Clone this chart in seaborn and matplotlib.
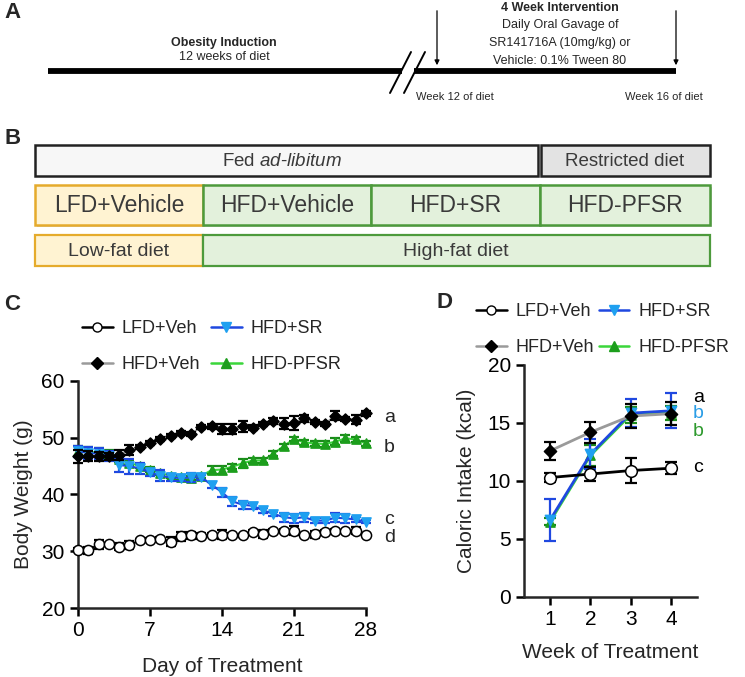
import numpy as np
import pandas as pd
import seaborn as sns
import matplotlib.pyplot as plt
from matplotlib.patches import Rectangle
from matplotlib.lines import Line2D
import matplotlib.patheffects as pe

sns.set_style('ticks')
plt.rcParams['font.family'] = ['Liberation Sans', 'DejaVu Sans']
plt.rcParams['mathtext.fontset'] = 'custom'
plt.rcParams['mathtext.rm'] = 'Liberation Sans'
plt.rcParams['mathtext.it'] = 'Liberation Sans:italic'

# ---- panel C: body weight (g) per day of treatment ----
days = list(range(29))
lfd_bw = [30.3, 30.2, 31.2, 31.2, 30.8, 31.1, 31.9, 32.0, 32.2, 31.7, 32.6, 32.8, 32.7, 32.9, 32.9,
          32.9, 32.8, 33.4, 33.1, 33.6, 33.6, 33.6, 32.9, 33.0, 33.4, 33.6, 33.5, 33.6, 32.9]
lfd_bw_err = [0.3, 0.6, 0.8, 0.3, 0.6, 0.7, 0.3, 0.3, 0.3, 0.8, 0.8, 0.6, 0.5, 0.3, 0.8,
              0.3, 0.3, 0.3, 0.7, 0.3, 0.3, 0.8, 0.3, 0.6, 0.3, 0.3, 0.3, 0.6, 0.3]
veh_bw = [46.7, 46.8, 46.7, 46.7, 46.9, 47.8, 48.4, 49.1, 49.8, 50.3, 50.8, 50.7, 51.9, 52.0, 51.6,
          51.6, 52.0, 51.8, 52.4, 52.9, 52.5, 52.6, 53.4, 52.8, 52.4, 53.9, 53.3, 53.2, 54.3]
veh_bw_err = [1.2, 0.9, 0.8, 0.6, 0.9, 0.9, 0.4, 0.4, 0.4, 0.4, 0.4, 0.4, 0.4, 0.5, 0.9,
              0.9, 0.9, 0.5, 0.4, 0.5, 0.9, 1.2, 0.6, 0.4, 0.4, 0.8, 0.4, 0.8, 0.4]
sr_bw = [47.6, 47.3, 47.2, 46.8, 45.2, 45.0, 44.6, 43.9, 43.3, 43.0, 42.9, 43.0, 43.0, 41.7, 40.4,
         38.8, 38.2, 38.0, 37.2, 36.6, 36.0, 35.8, 36.0, 35.4, 35.4, 35.9, 35.8, 35.6, 35.2]
sr_bw_err = [1.0, 1.0, 1.0, 0.9, 1.2, 1.3, 1.0, 0.6, 1.0, 0.6, 0.5, 0.8, 0.5, 0.5, 0.8,
             0.8, 0.7, 0.5, 0.4, 0.4, 0.8, 0.8, 0.8, 0.4, 0.4, 0.8, 0.8, 0.5, 0.3]
pfsr_bw = [47.6, 47.5, 47.4, 47.0, 46.2, 45.6, 45.0, 44.4, 43.8, 43.3, 43.0, 42.9, 43.3, 44.3, 44.4,
           44.9, 45.5, 46.0, 46.0, 47.2, 48.5, 49.8, 49.2, 49.0, 48.9, 49.3, 49.9, 49.7, 49.0]
pfsr_bw_err = [0.9, 0.8, 0.8, 0.8, 0.5, 0.4, 0.4, 0.4, 0.4, 0.4, 0.4, 0.4, 0.4, 0.7, 0.7,
               0.4, 0.8, 0.4, 0.4, 0.4, 0.4, 0.4, 0.4, 0.4, 0.6, 0.6, 0.6, 0.4, 0.4]
bw_letters = ['a', 'b', 'c', 'd']

# ---- panel D: caloric intake (kcal) per week ----
weeks = [1, 2, 3, 4]
lfd_kcal = [10.3, 10.6, 10.9, 11.1]
lfd_kcal_err = [0.4, 0.6, 1.1, 0.5]
veh_kcal = [12.6, 14.2, 15.6, 15.8]
veh_kcal_err = [0.8, 0.9, 1.0, 1.0]
sr_kcal = [6.65, 12.3, 15.85, 16.05]
sr_kcal_err = [1.8, 1.3, 1.2, 1.5]
pfsr_kcal = [6.5, 12.2, 15.7, 15.9]
pfsr_kcal_err = [0.3, 0.9, 0.7, 0.6]
kcal_letters = ['a', 'b', 'b', 'c']

W, H = 745, 677
fig = plt.figure(figsize=(W / 100, H / 100), dpi=100)


def px_axes(left, top, right, bottom):
    return fig.add_axes([left / W, 1 - bottom / H, (right - left) / W, (bottom - top) / H])


bg = fig.add_axes([0, 0, 1, 1], zorder=0)
bg.set_xlim(0, W)
bg.set_ylim(H, 0)
bg.axis('off')

# ---- panel A: timeline ----
bg.text(4, 13, 'A', fontsize=16, fontweight='bold', va='center')
bg.plot([48, 402], [71, 71], color='black', lw=4.2, solid_capstyle='butt')
bg.plot([414, 676], [71, 71], color='black', lw=4.2, solid_capstyle='butt')
bg.plot([390, 411], [93, 52], color='black', lw=1.4)
bg.plot([404, 425], [93, 52], color='black', lw=1.4)
for xa in [437, 676]:
    bg.annotate('', xy=(xa, 68), xytext=(xa, 8),
                arrowprops=dict(arrowstyle='-|>', lw=0.9, color='black', mutation_scale=7))
bg.text(224, 43, 'Obesity Induction', fontsize=9, fontweight='bold', ha='center', va='center')
bg.text(224, 57, '12 weeks of diet', fontsize=9, ha='center', va='center')
bg.text(560, 8, '4 Week Intervention', fontsize=9, fontweight='bold', ha='center', va='center')
bg.text(560, 25, 'Daily Oral Gavage of', fontsize=9, ha='center', va='center')
bg.text(560, 43, 'SR141716A (10mg/kg) or', fontsize=9, ha='center', va='center')
bg.text(560, 61, 'Vehicle: 0.1% Tween 80', fontsize=9, ha='center', va='center')
bg.text(455, 97, 'Week 12 of diet', fontsize=8, ha='center', va='center')
bg.text(664, 97, 'Week 16 of diet', fontsize=8, ha='center', va='center')

# ---- panel B: group boxes ----
bg.text(4, 139, 'B', fontsize=16, fontweight='bold', va='center')
txt = '#3a3a3a'
yel_fill, yel_edge = '#fff3d2', '#e5ab2c'
grn_fill, grn_edge = '#e3f1dc', '#4d9a3c'


def box(x0, x1, y0, y1, fc, ec, lw=1.6, shadow=False):
    r = Rectangle((x0, y0), x1 - x0, y1 - y0, facecolor=fc, edgecolor=ec, lw=lw)
    if shadow:
        r.set_path_effects([pe.SimplePatchShadow(offset=(1.5, -1.5), alpha=0.25), pe.Normal()])
    bg.add_patch(r)


box(35, 538, 145, 176, '#f7f7f7', '#222222', lw=1.8)
box(541, 710, 145, 176, '#e3e3e3', '#222222', lw=1.8)
bg.text(282, 161, 'Fed $\\it{ad}$-$\\it{libitum}$', fontsize=13.5, color=txt, ha='center', va='center')
bg.text(625, 161, 'Restricted diet', fontsize=13.5, color=txt, ha='center', va='center')

groups_b = ['LFD+Vehicle', 'HFD+Vehicle', 'HFD+SR', 'HFD-PFSR']
edges_b = [35, 203, 371, 540, 710]
for i, g in enumerate(groups_b):
    fc, ec = (yel_fill, yel_edge) if i == 0 else (grn_fill, grn_edge)
    box(edges_b[i], edges_b[i + 1], 185, 225, fc, ec, lw=1.8, shadow=True)
    bg.text((edges_b[i] + edges_b[i + 1]) / 2, 205, g, fontsize=16.5, color=txt, ha='center', va='center')

box(35, 203, 235, 266, yel_fill, yel_edge, lw=1.6)
box(203, 710, 235, 266, grn_fill, grn_edge, lw=1.6)
bg.text(119, 251, 'Low-fat diet', fontsize=14, color=txt, ha='center', va='center')
bg.text(456, 251, 'High-fat diet', fontsize=14, color=txt, ha='center', va='center')

# ---- series styles ----
blue_line, blue_mk = '#1f48e0', '#1fa0f0'
green_line, green_mk, green_err = '#3bd63b', '#1c9e1c', '#1a8a1a'
styles = {
    'LFD+Veh': dict(line='black', mk='white', mec='black', err='black', marker='o'),
    'HFD+Veh': dict(line='#9a9a9a', mk='black', mec='black', err='black', marker='D'),
    'HFD+SR': dict(line=blue_line, mk=blue_mk, mec=blue_mk, err=blue_line, marker='v'),
    'HFD-PFSR': dict(line=green_line, mk=green_mk, mec=green_mk, err=green_err, marker='^'),
}
draw_order = ['HFD-PFSR', 'HFD+SR', 'HFD+Veh', 'LFD+Veh']


def draw_series(ax, x, y, err, name, base_z, ms, lw, cap):
    st = styles[name]
    sns.lineplot(x=x, y=y, color=st['line'], lw=lw, ax=ax, zorder=base_z, clip_on=False)
    ax.errorbar(x, y, yerr=err, fmt='none', ecolor=st['err'], elinewidth=1.6,
                capsize=cap, capthick=1.6, zorder=base_z + 0.2, clip_on=False)
    sns.scatterplot(x=x, y=y, marker=st['marker'], color=st['mk'], edgecolor=st['mec'],
                    linewidth=1.1, s=ms ** 2, ax=ax, zorder=base_z + 0.4, clip_on=False)


# ---- panel C ----
axc = px_axes(78, 381, 366, 608)
bw = {'LFD+Veh': (lfd_bw, lfd_bw_err), 'HFD+Veh': (veh_bw, veh_bw_err),
      'HFD+SR': (sr_bw, sr_bw_err), 'HFD-PFSR': (pfsr_bw, pfsr_bw_err)}
sizes_c = {'LFD+Veh': 7.3, 'HFD+Veh': 5.6, 'HFD+SR': 6.6, 'HFD-PFSR': 6.6}
for k, name in enumerate(draw_order):
    vals, err = bw[name]
    draw_series(axc, days, vals, err, name, 3 + k, sizes_c[name], 1.5, 3.6)
axc.set_xlim(0, 28)
axc.set_ylim(20, 60)
axc.set_xticks([0, 7, 14, 21, 28])
axc.set_yticks([20, 30, 40, 50, 60])
axc.set_xlabel('Day of Treatment', fontsize=15, labelpad=12)
axc.set_ylabel('Body Weight (g)', fontsize=15, labelpad=6)
bg.text(4, 305, 'C', fontsize=16, fontweight='bold', va='center')
for letter, ypx in zip(bw_letters, [418, 447, 520, 537]):
    bg.text(384, ypx, letter, fontsize=14, va='center')

# ---- panel D ----
axd = px_axes(524, 365, 697, 597)
kc = {'LFD+Veh': (lfd_kcal, lfd_kcal_err), 'HFD+Veh': (veh_kcal, veh_kcal_err),
      'HFD+SR': (sr_kcal, sr_kcal_err), 'HFD-PFSR': (pfsr_kcal, pfsr_kcal_err)}
sizes_d = {'LFD+Veh': 8.4, 'HFD+Veh': 6.2, 'HFD+SR': 7.4, 'HFD-PFSR': 6.6}
for k, name in enumerate(draw_order):
    vals, err = kc[name]
    draw_series(axd, weeks, vals, err, name, 3 + k, sizes_d[name], 2.0, 4.2)
axd.set_xlim(0.35, 4.65)
axd.set_ylim(0, 20)
axd.set_xticks(weeks)
axd.set_yticks([0, 5, 10, 15, 20])
axd.set_xlabel('Week of Treatment', fontsize=15, labelpad=10)
axd.set_ylabel('Caloric Intake (kcal)', fontsize=15, labelpad=8)
bg.text(437, 303, 'D', fontsize=16, fontweight='bold', va='center')
for letter, ypx, col in zip(kcal_letters, [397, 414, 432, 468], ['black', '#2a9de6', '#2e9a2e', 'black']):
    bg.text(693, ypx, letter, fontsize=14, va='center', color=col)

for ax in (axc, axd):
    sns.despine(ax=ax)
    for sp in ('left', 'bottom'):
        ax.spines[sp].set_linewidth(1.8)
    ax.tick_params(width=1.8, length=6, labelsize=15, color='black', labelcolor='black')
    ax.set_zorder(2)
    ax.patch.set_alpha(0)


# ---- legends ----
def handle(name, ms):
    st = styles[name]
    return Line2D([], [], color=st['line'], lw=1.8, marker=st['marker'], markersize=ms,
                  markerfacecolor=st['mk'], markeredgecolor=st['mec'])


legend_order = ['LFD+Veh', 'HFD+Veh', 'HFD+SR', 'HFD-PFSR']
for (x0, y0, colsp) in [(73, 311, 0.6), (467, 294, 0.25)]:
    fig.legend([handle(n, 6.5) for n in legend_order], legend_order, ncol=2, frameon=False,
               loc='upper left', bbox_to_anchor=(x0 / W, 1 - y0 / H), borderpad=0,
               fontsize=13, handlelength=1.7, handletextpad=0.5, columnspacing=colsp,
               labelspacing=1.05)

fig.savefig('out.png', dpi=100)
